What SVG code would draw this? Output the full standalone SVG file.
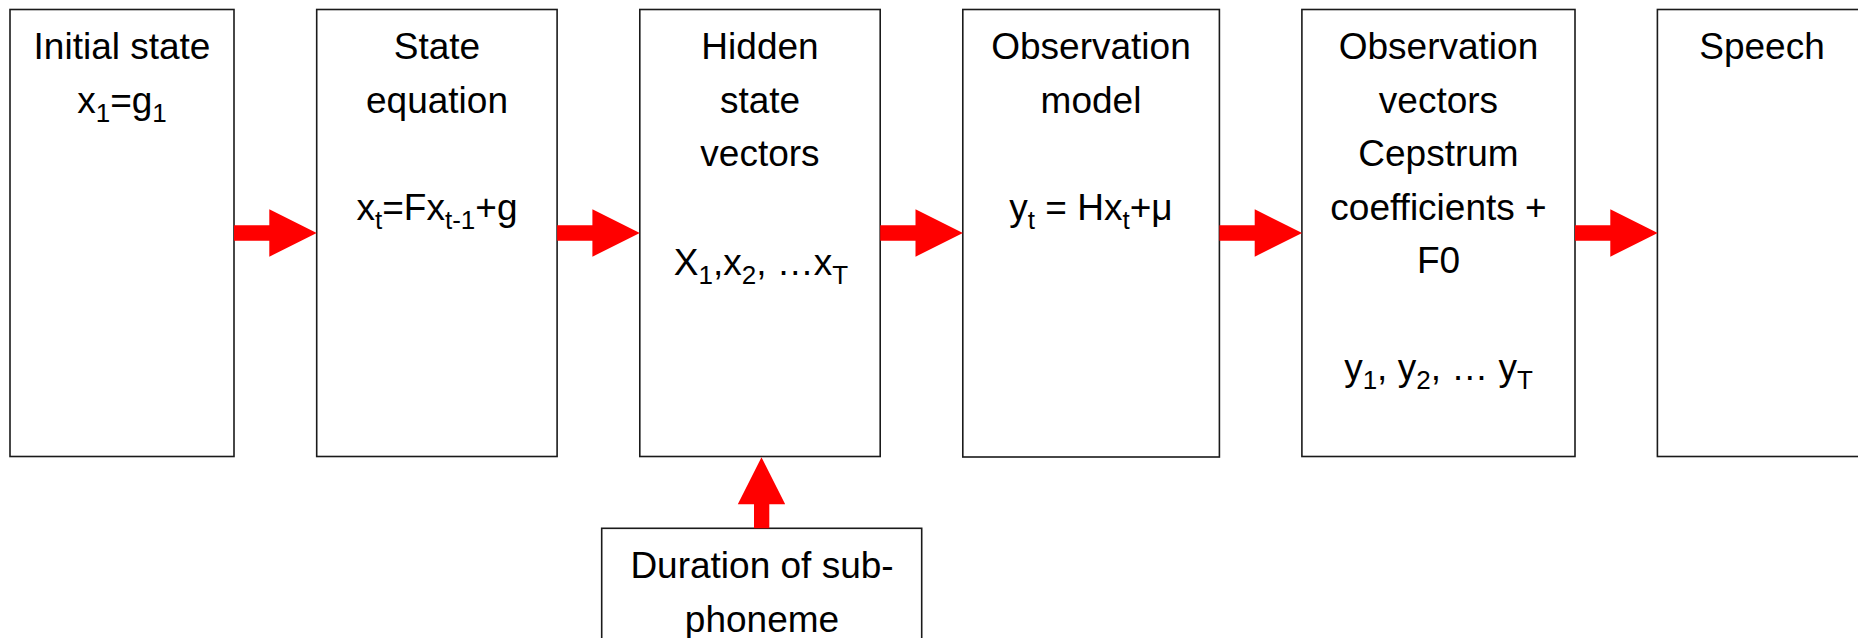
<svg xmlns="http://www.w3.org/2000/svg" width="1858" height="638" viewBox="0 0 1858 638">
<style>
.box{fill:#fff;stroke:#1a1a1a;stroke-width:1.6}
.t{font-family:"Liberation Sans",Arial,sans-serif;font-size:37px;fill:#000;text-anchor:middle}
.s{font-size:26px}
.arr{fill:#ff0000}
</style>
<defs>
<path id="harrow" d="M0,-7.7 H35.3 V-23.7 L82.7,0 L35.3,23.7 V7.7 H0 Z"/>
</defs>
<rect width="1858" height="638" fill="#fff"/>
<g id="initial-state">
<rect class="box" x="10" y="9.5" width="224" height="447"/>
<text class="t" x="122" y="59.3">Initial state</text>
<text class="t" x="122" y="112.7">x<tspan class="s" dy="9">1</tspan><tspan dy="-9">=g</tspan><tspan class="s" dy="9">1</tspan></text>
</g>
<g id="state-equation">
<rect class="box" x="316.7" y="9.5" width="240.4" height="447"/>
<text class="t" x="437" y="59.3">State</text>
<text class="t" x="437" y="112.7">equation</text>
<text class="t" x="437" y="220">x<tspan class="s" dy="9">t</tspan><tspan dy="-9">=Fx</tspan><tspan class="s" dy="9">t-1</tspan><tspan dy="-9">+g</tspan></text>
</g>
<g id="hidden-state">
<rect class="box" x="639.8" y="9.5" width="240.4" height="447"/>
<text class="t" x="760" y="59.3">Hidden</text>
<text class="t" x="760" y="112.7">state</text>
<text class="t" x="760" y="166">vectors</text>
<text class="t" x="761" y="274.5">X<tspan class="s" dy="9">1</tspan><tspan dy="-9">,x</tspan><tspan class="s" dy="9">2</tspan><tspan dy="-9">, …x</tspan><tspan class="s" dy="9">T</tspan></text>
</g>
<g id="observation-model">
<rect class="box" x="962.8" y="9.5" width="256.6" height="447.5"/>
<text class="t" x="1091" y="59.3">Observation</text>
<text class="t" x="1091" y="112.7">model</text>
<text class="t" x="1091" y="220">y<tspan class="s" dy="9">t</tspan><tspan dy="-9"> = Hx</tspan><tspan class="s" dy="9">t</tspan><tspan dy="-9">+μ</tspan></text>
</g>
<g id="observation-vectors">
<rect class="box" x="1301.9" y="9.5" width="273.1" height="447"/>
<text class="t" x="1438.5" y="59.3">Observation</text>
<text class="t" x="1438.5" y="112.7">vectors</text>
<text class="t" x="1438.5" y="166">Cepstrum</text>
<text class="t" x="1438.5" y="219.5">coefficients +</text>
<text class="t" x="1438.5" y="273">F0</text>
<text class="t" x="1438.5" y="380">y<tspan class="s" dy="9">1</tspan><tspan dy="-9">, y</tspan><tspan class="s" dy="9">2</tspan><tspan dy="-9">, … y</tspan><tspan class="s" dy="9">T</tspan></text>
</g>
<g id="speech">
<rect class="box" x="1657.4" y="9.5" width="209" height="447"/>
<text class="t" x="1762" y="59.3">Speech</text>
</g>
<g id="duration">
<rect class="box" x="601.7" y="528.3" width="320" height="130"/>
<text class="t" x="762" y="578.3">Duration of sub-</text>
<text class="t" x="762" y="631.7">phoneme</text>
</g>
<g id="connectors" class="arr">
<use href="#harrow" transform="translate(234,233)"/>
<use href="#harrow" transform="translate(557.1,233)"/>
<use href="#harrow" transform="translate(880.2,233)"/>
<use href="#harrow" transform="translate(1219.4,233)"/>
<use href="#harrow" transform="translate(1575,233)"/>
<polygon points="754,528.3 754,504.3 737.8,504.3 761.5,457.2 785.2,504.3 769.3,504.3 769.3,528.3"/>
</g>
</svg>
